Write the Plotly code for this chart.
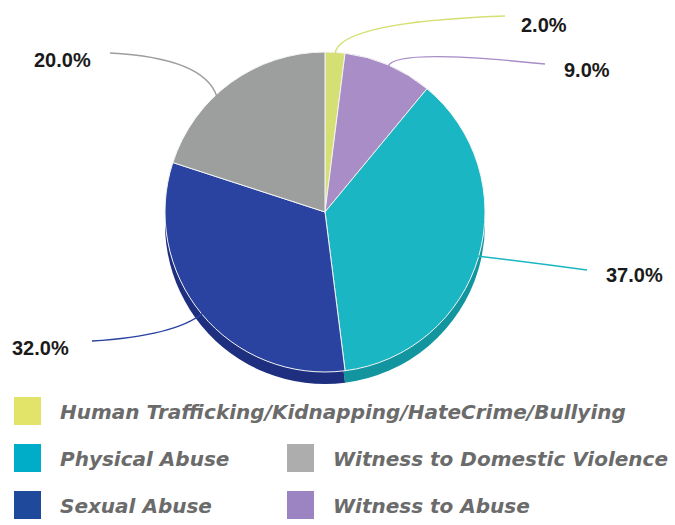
import plotly.graph_objects as go

# ---- data ----
categories = ["Human Trafficking/Kidnapping/HateCrime/Bullying", "Witness to Abuse",
              "Physical Abuse", "Sexual Abuse", "Witness to Domestic Violence"]
values = [2.0, 9.0, 37.0, 32.0, 20.0]
top_colors = ["#d5e074", "#a88dc7", "#1bb6c3", "#2a42a0", "#9d9e9e"]
rim_colors = ["#a9b24f", "#7d6499", "#12959f", "#1f2f80", "#777878"]
legend_colors = ["#e2e46a", "#9b84c1", "#00adc8", "#1f4a9c", "#adadad"]

W, H = 675, 525
def px(x, y):
    return x / W, 1 - y / H

cx, cy, R, depth = 325, 212, 160, 12

fig = go.Figure()
# rim (3D thickness)
fig.add_trace(go.Pie(
    labels=categories, values=values, sort=False, direction="clockwise", rotation=0,
    marker=dict(colors=rim_colors, line=dict(color="#ffffff", width=0)),
    textinfo="none", hoverinfo="skip", showlegend=False,
    domain=dict(x=[(cx - R) / W, (cx + R) / W],
                y=[1 - (cy + R + depth) / H, 1 - (cy - R + depth) / H])))
# top face
fig.add_trace(go.Pie(
    labels=categories, values=values, sort=False, direction="clockwise", rotation=0,
    marker=dict(colors=top_colors, line=dict(color="#f4f4f4", width=1)),
    textinfo="none", hoverinfo="label+percent", showlegend=False,
    domain=dict(x=[(cx - R) / W, (cx + R) / W],
                y=[1 - (cy + R) / H, 1 - (cy - R) / H])))

# percentage labels with curved leader lines
label_pos = [(544, 25), (587, 70), (634, 275), (40, 348), (62, 60)]
leaders = [
    [(335, 54), (338, 22), (505, 16)],
    [(388, 67), (392, 48), (545, 64)],
    [(477, 256), (530, 262), (587, 270)],
    [(203, 313), (175, 336), (92, 341)],
    [(217, 97), (205, 58), (110, 53)],
]
shapes = []
annotations = []
total = sum(values)
for v, col, (tx, ty), pts in zip(values, top_colors, label_pos, leaders):
    (x0, y0), (x1, y1), (x2, y2) = [px(*p) for p in pts]
    shapes.append(dict(type="path", xref="paper", yref="paper",
                       path=f"M {x0},{y0} Q {x1},{y1} {x2},{y2}",
                       line=dict(color=col, width=1.5)))
    lx, ly = px(tx, ty)
    annotations.append(dict(x=lx, y=ly, xref="paper", yref="paper", showarrow=False,
                            xanchor="center", yanchor="middle",
                            text=f"<b>{v / total * 100:.1f}%</b>",
                            font=dict(family="Liberation Sans, Arial", size=20, color="#1a1a1a")))

# custom legend
legend_order = [0, 2, 4, 3, 1]
legend_slots = [(14, 397), (14, 444), (287, 444), (14, 491), (287, 491)]
sq = 27
for idx, (sx, sy) in zip(legend_order, legend_slots):
    x0, y1 = px(sx, sy)
    x1, y0 = px(sx + sq, sy + sq + 1)
    shapes.append(dict(type="rect", xref="paper", yref="paper", x0=x0, x1=x1, y0=y0, y1=y1,
                       fillcolor=legend_colors[idx], line=dict(width=0)))
    tx, ty = px(sx + 44, sy + sq / 2 + 1)
    annotations.append(dict(x=tx, y=ty, xref="paper", yref="paper", showarrow=False,
                            xanchor="left", yanchor="middle",
                            text=f"<b><i>{categories[idx]}</i></b>",
                            font=dict(family="DejaVu Sans", size=20, color="#6b6b6b")))

fig.update_layout(width=W, height=H, margin=dict(l=0, r=0, t=0, b=0),
                  paper_bgcolor="white", plot_bgcolor="white",
                  shapes=shapes, annotations=annotations)
fig.write_html("out.html", config={"displayModeBar": False},
               post_script="document.body.style.margin='0';document.body.style.overflow='hidden';")
